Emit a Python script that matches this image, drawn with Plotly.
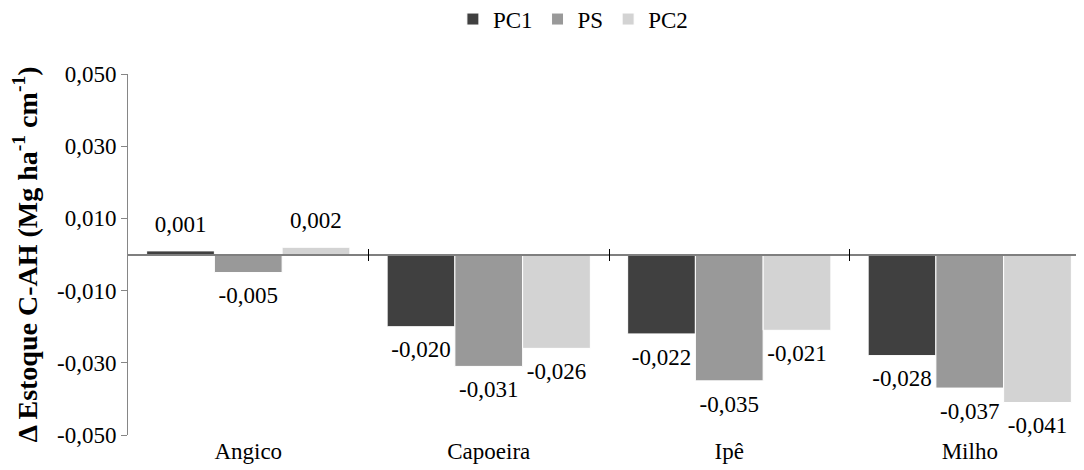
import plotly.graph_objects as go

categories = ["Angico", "Capoeira", "Ipê", "Milho"]
series_names = ["PC1", "PS", "PC2"]
pc1 = [0.001, -0.020, -0.022, -0.028]
ps = [-0.005, -0.031, -0.035, -0.037]
pc2 = [0.002, -0.026, -0.021, -0.041]
y_ticks = [-0.05, -0.03, -0.01, 0.01, 0.03, 0.05]

colors = ["#404040", "#999999", "#d3d3d3"]
FONT = "Liberation Serif, Times New Roman, serif"
GAP = 0.155


def fmt(v):
    return f"{v:.3f}".replace(".", ",")


fig = go.Figure()
for name, vals, col in zip(series_names, [pc1, ps, pc2], colors):
    fig.add_trace(go.Bar(
        x=categories, y=vals, name=name, offsetgroup=name,
        marker=dict(color=col, line=dict(color="white", width=1)),
        hoverinfo="skip",
    ))
for name, vals in zip(series_names, [pc1, ps, pc2]):
    fig.add_trace(go.Scatter(
        x=categories, y=vals, name=name, offsetgroup=name, showlegend=False,
        mode="markers+text",
        marker=dict(size=20, color="rgba(0,0,0,0)"),
        text=[fmt(v) for v in vals],
        textposition=["top center" if v >= 0 else "bottom center" for v in vals],
        textfont=dict(family=FONT, size=23, color="black"),
        cliponaxis=False, hoverinfo="skip",
    ))

n = len(categories)
boundaries = [i + 0.5 for i in range(n - 1)]
xr = [-0.5, n - 0.525]

# helper traces so the overlay axes are drawn
fig.add_trace(go.Scatter(x=[None], y=[None], xaxis="x2", showlegend=False, hoverinfo="skip"))
fig.add_trace(go.Scatter(x=[None], y=[None], xaxis="x3", showlegend=False, hoverinfo="skip"))

fig.update_layout(
    width=1076, height=462,
    margin=dict(l=120, r=0, t=66, b=35, autoexpand=False),
    paper_bgcolor="white", plot_bgcolor="white",
    barmode="group", bargap=GAP, bargroupgap=0,
    scattermode="group", scattergap=GAP,
    font=dict(family=FONT, size=23, color="black"),
    legend=dict(orientation="h", xref="container", yref="container",
                x=0.525, xanchor="center", y=0.976, yanchor="middle",
                font=dict(family=FONT, size=23, color="black"),
                itemwidth=30, traceorder="normal"),
    xaxis=dict(range=xr, showline=False, ticks="", showgrid=False, zeroline=False,
               tickfont=dict(family=FONT, size=23, color="black")),
    xaxis2=dict(overlaying="x", anchor="free", position=0.5, type="linear", range=xr,
                showline=True, linecolor="#7f7f7f", linewidth=1.5,
                tickmode="array", tickvals=boundaries, ticks="outside", ticklen=6,
                tickcolor="black", tickwidth=1, showticklabels=False, showgrid=False,
                zeroline=False, layer="above traces"),
    xaxis3=dict(overlaying="x", anchor="free", position=0.5, type="linear", range=xr,
                showline=False,
                tickmode="array", tickvals=boundaries, ticks="inside", ticklen=6,
                tickcolor="black", tickwidth=1, showticklabels=False, showgrid=False,
                zeroline=False, layer="above traces"),
    yaxis=dict(range=[-0.05, 0.05], tickmode="array", tickvals=y_ticks,
               ticktext=[fmt(v) for v in y_ticks],
               showline=True, linecolor="#868686", linewidth=1,
               ticks="outside", ticklen=6, tickcolor="#868686",
               showgrid=False, zeroline=False,
               tickfont=dict(family=FONT, size=23, color="black"),
               title=dict(text="<b>Δ Estoque C-AH (Mg ha<sup>-1</sup> cm<sup>-1</sup>)</b>",
                          font=dict(family=FONT, size=28, color="black"), standoff=22)),
    showlegend=True,
)
fig.update_yaxes(automargin=False)
fig.update_xaxes(automargin=False)

fig.write_html("out.html")
